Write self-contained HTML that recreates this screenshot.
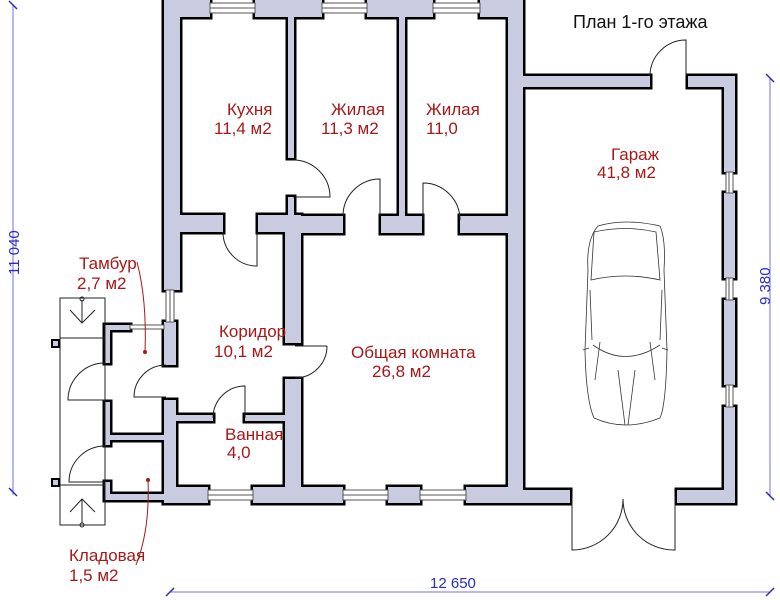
<!DOCTYPE html>
<html><head><meta charset="utf-8"><style>
html,body{margin:0;padding:0;background:#fff;}
svg{display:block}
.l{font-family:"Liberation Sans",sans-serif;font-size:17px;fill:#a81818}
.d{font-family:"Liberation Sans",sans-serif;font-size:15px;fill:#2a2ac8}
</style></head><body>
<svg width="780" height="600" viewBox="0 0 780 600" xmlns="http://www.w3.org/2000/svg">
<defs>
<g id="walls">
<rect x="164" y="0" width="46" height="17"/><rect x="255" y="0" width="67" height="17"/><rect x="367" y="0" width="66" height="17"/><rect x="480" y="0" width="43" height="17"/>
<rect x="164" y="0" width="16" height="290"/>
<rect x="164" y="322" width="12" height="43"/><rect x="164" y="400" width="12" height="103"/>
<rect x="164" y="215" width="59" height="17"/><rect x="258" y="215" width="37" height="17"/>
<rect x="285" y="215" width="16" height="128"/><rect x="285" y="379" width="16" height="124"/>
<rect x="301" y="216" width="42" height="17"/><rect x="381" y="216" width="41" height="17"/><rect x="460" y="216" width="63" height="17"/>
<rect x="288" y="17" width="6" height="141"/><rect x="288" y="197" width="6" height="19"/>
<rect x="399" y="17" width="6" height="199"/>
<rect x="508" y="0" width="15" height="503"/>
<rect x="523" y="76" width="127" height="11"/><rect x="688" y="76" width="47" height="11"/>
<rect x="724" y="76" width="11" height="96"/><rect x="724" y="193" width="11" height="85"/><rect x="724" y="300" width="11" height="85"/><rect x="724" y="407" width="11" height="96"/>
<rect x="508" y="490" width="62" height="13"/><rect x="677" y="490" width="58" height="13"/>
<rect x="164" y="487" width="44" height="16"/><rect x="253" y="487" width="90" height="16"/><rect x="388" y="487" width="32" height="16"/><rect x="466" y="487" width="42" height="16"/>
<rect x="176" y="415" width="37" height="6"/><rect x="245" y="415" width="40" height="6"/>
<rect x="105" y="325" width="5" height="38"/><rect x="105" y="325" width="25" height="5"/>
<rect x="105" y="402" width="5" height="43"/><rect x="110" y="435" width="54" height="5"/>
<rect x="105" y="482" width="5" height="18"/><rect x="105" y="494" width="59" height="6"/>
</g>
</defs>
<use href="#walls" fill="#000" stroke="#000" stroke-width="5"/>
<use href="#walls" fill="#c9cbe0"/>
<g fill="#fff" stroke="#555" stroke-width="1">
<rect x="210" y="3" width="45" height="10"/><rect x="322" y="3" width="45" height="10"/><rect x="433" y="3" width="47" height="10"/>
<rect x="208" y="490" width="45" height="10"/><rect x="343" y="490" width="45" height="10"/><rect x="420" y="490" width="46" height="10"/>
<rect x="166" y="290" width="8" height="32"/><rect x="130" y="325" width="34" height="4"/>
<rect x="726" y="172" width="7" height="21"/><rect x="726" y="278" width="7" height="22"/><rect x="726" y="385" width="7" height="22"/>
</g>
<g stroke="#555" stroke-width="1"><line x1="210" y1="8" x2="255" y2="8"/><line x1="322" y1="8" x2="367" y2="8"/><line x1="433" y1="8" x2="480" y2="8"/><line x1="208" y1="495" x2="253" y2="495"/><line x1="343" y1="495" x2="388" y2="495"/><line x1="420" y1="495" x2="466" y2="495"/><line x1="170" y1="290" x2="170" y2="322"/><line x1="729" y1="172" x2="729" y2="193"/><line x1="729" y1="278" x2="729" y2="300"/><line x1="729" y1="385" x2="729" y2="407"/></g>
<g fill="none" stroke="#222" stroke-width="1">
<path d="M223,232 A34,34 0 0 0 257,266 L257,232"/>
<path d="M293,160 A37,37 0 0 1 330,197 L293,197"/>
<path d="M343,216 A37,37 0 0 1 380,179 L380,216"/>
<path d="M460,220 A37,37 0 0 0 423,183 L423,220"/>
<path d="M650,76 A36,36 0 0 1 686,40 L686,76"/>
<path d="M327,346 A32,32 0 0 1 295,378 M295,346 L327,346"/>
<path d="M166,365 A32,32 0 0 0 134,397 L166,397"/>
<path d="M213,418 A32,32 0 0 1 245,386 L245,418"/>
<path d="M105,363 A37,37 0 0 0 68,400 L105,400"/>
<path d="M105,446 A36,36 0 0 0 69,482 L105,482"/>
<path d="M572,497 L572,550 A51,51 0 0 0 623,499"/>
<path d="M675,497 L675,550 A51,51 0 0 1 623,499"/>
<rect x="60" y="298" width="45" height="227"/>
<line x1="60" y1="338" x2="105" y2="338"/><line x1="60" y1="485" x2="105" y2="485"/>
<path d="M70,310 L82,323 L95,310 M82,300 L82,323"/><path d="M70,512 L82,499 L95,512 M82,499 L82,523"/>
<circle cx="82" cy="299" r="2"/><circle cx="82" cy="525" r="2"/>
</g>
<rect x="52" y="340" width="7" height="7" fill="#c9cbe0" stroke="#000" stroke-width="2"/>
<rect x="52" y="479" width="7" height="7" fill="#c9cbe0" stroke="#000" stroke-width="2"/>
<g fill="none" stroke="#333" stroke-width="0.8">
<path d="M598,226 Q625,218 660,226 Q666,240 664,270 L667,350 Q666,405 660,418 Q625,432 594,418 Q586,400 585,350 L588,270 Q586,240 598,226 Z"/>
<path d="M594,232 Q625,225 656,232 L660,280 Q625,272 591,280 Z"/>
<path d="M593,345 Q625,368 660,345 M595,380 L600,342 M655,380 L650,342 M618,370 L625,425 M635,370 L628,425"/>
<path d="M590,290 L592,340 M662,290 L660,340 M583,350 L589,348 M668,350 L662,348"/>
</g>
<g fill="none" stroke="#a81818" stroke-width="1"><path d="M137,262 Q147,300 145,352"/><path d="M148,480 Q150,530 136,565"/></g>
<circle cx="145" cy="352" r="2" fill="#a81818"/><circle cx="148" cy="480" r="2" fill="#a81818"/>
<g stroke="#7070e0" stroke-width="1"><line x1="13" y1="5" x2="13" y2="495"/><line x1="170" y1="592" x2="770" y2="592"/><line x1="770" y1="78" x2="770" y2="496"/></g>
<g stroke="#2a2ac8" stroke-width="1.5"><line x1="9" y1="1" x2="17" y2="9"/><line x1="9" y1="488" x2="17" y2="496"/><line x1="166" y1="596" x2="174" y2="588"/><line x1="766" y1="596" x2="774" y2="588"/><line x1="766" y1="74" x2="774" y2="82"/><line x1="766" y1="492" x2="774" y2="500"/></g>
<text class="d" transform="translate(19,275) rotate(-90)">11 040</text>
<text class="d" transform="translate(770,305) rotate(-90)">9 380</text>
<text class="d" x="430" y="588">12 650</text>
<text x="573" y="28" style="font-family:'Liberation Sans',sans-serif;font-size:18px" fill="#111">План 1-го этажа</text>
<text class="l" x="227" y="115">Кухня</text><text class="l" x="214" y="134">11,4 м2</text>
<text class="l" x="331" y="115">Жилая</text><text class="l" x="321" y="134">11,3 м2</text>
<text class="l" x="426" y="115">Жилая</text><text class="l" x="426" y="134">11,0</text>
<text class="l" x="611" y="160">Гараж</text><text class="l" x="597" y="178">41,8 м2</text>
<text class="l" x="79" y="269">Тамбур</text><text class="l" x="77" y="289">2,7 м2</text>
<text class="l" x="219" y="337">Коридор</text><text class="l" x="214" y="357">10,1 м2</text>
<text class="l" x="351" y="358">Общая комната</text><text class="l" x="372" y="377">26,8 м2</text>
<text class="l" x="225" y="440">Ванная</text><text class="l" x="227" y="458">4,0</text>
<text class="l" x="69" y="561">Кладовая</text><text class="l" x="69" y="581">1,5 м2</text>
</svg>
</body></html>
